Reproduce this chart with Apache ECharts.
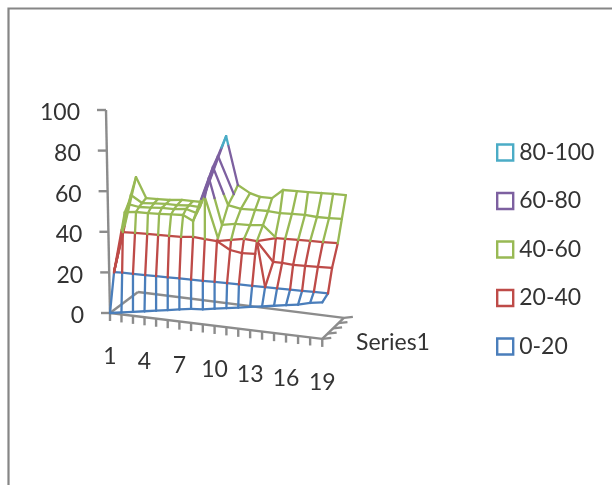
<!DOCTYPE html>
<html>
<head>
<meta charset="utf-8">
<style>html,body{margin:0;padding:0;background:#fff}#chart{width:612px;height:485px}</style>
<script src="https://cdn.jsdelivr.net/npm/echarts@6/dist/echarts.min.js"></script>
</head>
<body>
<div id="chart"></div>
<script>
// Band names, top of the legend first, and their wire colours.
const bandNames = ['80-100', '60-80', '40-60', '20-40', '0-20'];
const bandColors = ['#4BACC6', '#7D60A0', '#98B954', '#BE4B48', '#4A7EBB'];

// Axis tick labels.
const heightTicks = [0, 20, 40, 60, 80, 100];
const columnTicks = [1, 4, 7, 10, 13, 16, 19];
const depthLabel = 'Series1';
const columnCount = 19;
const depthTickCount = 5;

// Surface rows: height and depth at each of the 19 columns; null where a row is absent.
const frontHeights = [0, 1, 2, 3, 4, 5, 6, 7, 7.5, 8.5, 9.5, 10.5, 11.5, 12.5, 13.5, 14.5, 15.5, 17, 18];
const frontDepths = [0, 0, 0, 0, 0, 0, 0, 0, 0, 0, 0, 0, 0, 0, 0, 0, 0, 0, 0];

const lowHeights = [18.6, 20.3, 20.7, 20.5, 21, 21.1, 21.3, 21.4, 21.5, 21.7, 21.5, 21.6, 21.1, 20.8, 20.9, 20.6, 20.7, 21, 20.2];
const lowDepths = [0.6, 0.1, 0, 0.1, 0, 0, 0, 0, 0, 0, 0.1, 0.1, 0.3, 0.45, 0.45, 0.6, 0.6, 0.55, 0.85];

const dipHeights = [null, null, null, null, null, null, null, null, null, 40.9, 36.7, 35.9, 35.7, null, null, null, null, null, null];
const dipDepths = [null, null, null, null, null, null, null, null, null, 0.35, 0.55, 0.55, 0.75, null, null, null, null, null, null];

const shelfHeights = [null, null, null, null, null, null, null, null, null, null, null, null, null, 30.1, 31.5, 31.6, 31.8, 31.8, 31.2];
const shelfDepths = [null, null, null, null, null, null, null, null, null, null, null, null, null, 1.65, 1.2, 1.05, 1.05, 1.15, 1.45];

const midHeights = [18.6, 40, 40.1, 40.1, 40.5, 41, 41.1, 41.7, 41.3, 40.9, 41.3, 42.1, 41.3, 40.8, 42.2, 42, 42.2, 42.1, 41.2];
const midDepths = [0.6, 0.2, 0.3, 0.4, 0.3, 0.2, 0.25, 0.3, 0.3, 0.35, 0.7, 0.85, 1, 2.05, 1.65, 1.8, 1.8, 1.9, 2.3];

const skirtHeights = [null, null, null, null, null, null, null, null, 62, 42, null, null, null, null, null, null, null, null, null];
const skirtDepths = [null, null, null, null, null, null, null, null, 0.3, 0.5, null, null, null, null, null, null, null, null, null];

const upperHeights = [18.6, 49.1, 50, 50, 50.5, 50.8, 51.1, 49.5, 69.9, 46.9, 47.6, 46.6, 46.9, 41.6, null, null, null, null, null];
const upperDepths = [0.6, 0.5, 0.45, 0.5, 0.45, 0.5, 0.55, 0.3, 0.9, 1.1, 1.3, 1.75, 1.9, 1.95, null, null, null, null, null];

const ridgeHeights = [18.6, 51.8, 51.3, 51.6, 52.4, 52.3, 52.9, 52, 73.7, 54.4, 52.8, 52.1, 51.9, 51.6, 51.9, 51.7, 51.4, 51.6, 51.6];
const ridgeDepths = [0.6, 1, 0.9, 0.95, 0.85, 0.95, 1, 0.85, 1.5, 2, 2.15, 2.5, 2.65, 2.65, 2.65, 2.8, 2.8, 2.8, 2.9];

const crestHeights = [18.6, 55.2, 52.1, 52.5, 52.8, 53.1, 53.6, 53.8, 77.2, 57.6, null, null, null, null, null, null, null, null, null];
const crestDepths = [0.6, 1.4, 1.35, 1.4, 1.45, 1.4, 1.4, 1.3, 2.25, 2.85, null, null, null, null, null, null, null, null, null];

const backHeights = [18.6, 62.1, 53, 53.1, 53.2, 53.8, 54.2, 55.5, 83.9, 60.5, 57.1, 56.7, 56.7, 61.8, 61.2, 61.8, 61.4, 61.9, 61.8];
const backDepths = [0.6, 2.15, 1.95, 2, 2.05, 2.1, 2, 1.6, 3.45, 3.45, 3.5, 3.2, 3.25, 3.1, 3.4, 3.25, 3.5, 3.4, 3.5];

// Rows from front to back, in the order the column wires visit them.
const rowHeights = [frontHeights, lowHeights, dipHeights, shelfHeights, midHeights, skirtHeights, upperHeights, ridgeHeights, crestHeights, backHeights];
const rowDepths = [frontDepths, lowDepths, dipDepths, shelfDepths, midDepths, skirtDepths, upperDepths, ridgeDepths, crestDepths, backDepths];

// Two creases where the surface folds: [column, row, column, row], zero-based.
const foldEdges = [[12, 4, 13, 3], [12, 4, 13, 1]];

// Projection of (column, depth, height) onto the plotting plane.
const PX_PER_COLUMN = 11.7;
const PX_PER_HEIGHT = 2.03;
const DEPTH_PX_X = 6.75;
const DEPTH_PX_Y = 5.25;
const FLOOR_DROP = 1.44;
const WALL_LEAN = -0.04;

function frontPx(column) {
  return 11.45 * column + 0.019 * column * column;
}
function toPlane(column, depth, height, depthPxX) {
  const run = depthPxX === undefined ? DEPTH_PX_X : depthPxX;
  return [
    (frontPx(column) + depth * run) / PX_PER_COLUMN,
    height + (DEPTH_PX_Y * depth - FLOOR_DROP * column) / PX_PER_HEIGHT
  ];
}
function floorRun(column) {
  return 7 - 0.0889 * column;
}

// Contours sit a little above their nominal level, hence the tolerance.
const LEVEL_TOLERANCE = 2.5;
const segmentsByBand = bandNames.map(() => []);

function bandIndex(height) {
  const band = Math.max(0, Math.min(4, Math.floor(height / 20)));
  return 4 - band;
}
function pushWire(a, b) {
  const low = Math.min(a[2], b[2]);
  const high = Math.max(a[2], b[2]);
  const cuts = [];
  for (let level = 20; level <= 80; level += 20) {
    if (low < level - LEVEL_TOLERANCE && high > level + LEVEL_TOLERANCE) {
      cuts.push((level - a[2]) / (b[2] - a[2]));
    }
  }
  if (!cuts.length) {
    const mid = (a[2] + b[2]) / 2 - LEVEL_TOLERANCE;
    segmentsByBand[bandIndex(mid)].push(a.concat(b));
    return;
  }
  const stops = [0].concat(cuts.sort((p, q) => p - q), [1]);
  for (let k = 0; k + 1 < stops.length; k++) {
    const start = a.map((v, n) => v + (b[n] - v) * stops[k]);
    const end = a.map((v, n) => v + (b[n] - v) * stops[k + 1]);
    segmentsByBand[bandIndex((start[2] + end[2]) / 2)].push(start.concat(end));
  }
}
function gridPoint(column, row) {
  const h = rowHeights[row][column];
  return h === null ? null : [column, rowDepths[row][column], h];
}

// Wires running along each row.
rowHeights.forEach((heights, row) => {
  for (let c = 0; c + 1 < columnCount; c++) {
    const a = gridPoint(c, row);
    const b = gridPoint(c + 1, row);
    if (a && b) pushWire(a, b);
  }
});
// Wires running front to back along each column.
for (let c = 0; c < columnCount; c++) {
  let previous = null;
  rowHeights.forEach((heights, row) => {
    const p = gridPoint(c, row);
    if (!p) return;
    if (previous && (previous[1] !== p[1] || previous[2] !== p[2])) pushWire(previous, p);
    previous = p;
  });
}
foldEdges.forEach(([c1, r1, c2, r2]) => pushWire(gridPoint(c1, r1), gridPoint(c2, r2)));

const AXIS_COLOR = '#8C8C8C';
const TEXT_COLOR = '#333333';
const AXIS_FONT = '23px Lato';

function renderAxes(params, api) {
  const px = (column, depth, height, run) => api.coord(toPlane(column, depth, height, run));
  const gray = { stroke: AXIS_COLOR, lineWidth: 2.4 };
  const line = (a, b) => ({ type: 'line', shape: { x1: a[0], y1: a[1], x2: b[0], y2: b[1] }, style: gray });
  const text = (label, x, y, align) => ({
    type: 'text',
    style: { text: String(label), x: x, y: y, fill: TEXT_COLOR, font: AXIS_FONT, align: align, verticalAlign: 'middle' }
  });
  const last = columnCount - 1;
  const lastDepth = depthTickCount - 1;
  const corners = [
    px(0, 0, 0), px(last, 0, 0),
    px(last, lastDepth, 0, floorRun(last)), px(0, lastDepth, 0, floorRun(0))
  ];
  const children = [
    line(corners[0], corners[1]), line(corners[1], corners[2]),
    line(corners[2], corners[3]), line(corners[3], corners[0])
  ];
  // Height axis, leaning slightly to the left as it rises.
  const wallX = h => px(0, 0, h)[0] + WALL_LEAN * h;
  const top = heightTicks[heightTicks.length - 1];
  children.push(line([wallX(0), px(0, 0, 0)[1]], [wallX(top), px(0, 0, top)[1]]));
  heightTicks.forEach(h => {
    const y = px(0, 0, h)[1];
    children.push(line([wallX(h) - 9, y], [wallX(h), y]));
    children.push(text(h, wallX(h) - 26, y + 3, 'right'));
  });
  // Column ticks along the front of the floor.
  for (let c = 0; c < columnCount; c++) {
    const p = px(c, 0, 0);
    children.push(line(p, [p[0], p[1] + 8]));
  }
  columnTicks.forEach(label => {
    const p = px(label - 1, 0, 0);
    children.push(text(label, p[0], p[1] + 44, 'center'));
  });
  // Depth ticks along the right edge of the floor.
  for (let d = 0; d < depthTickCount; d++) {
    const p = px(last, d, 0, floorRun(last));
    children.push(line(p, [p[0] + 9, p[1] - 1]));
  }
  const mid = px(last, 2, 0, floorRun(last));
  children.push(text(depthLabel, mid[0] + 23, mid[1] + 14, 'left'));
  return { type: 'group', children: children };
}

function renderWire(color) {
  return function (params, api) {
    const a = api.coord(toPlane(api.value(0), api.value(1), api.value(2)));
    const b = api.coord(toPlane(api.value(3), api.value(4), api.value(5)));
    return {
      type: 'line',
      shape: { x1: a[0], y1: a[1], x2: b[0], y2: b[1] },
      style: { stroke: color, lineWidth: 2.3, lineCap: 'round' }
    };
  };
}

const wireSeries = bandNames.map((name, n) => ({
  type: 'custom',
  name: name,
  silent: true,
  z: 3 + (4 - n),
  renderItem: renderWire(bandColors[n]),
  data: segmentsByBand[n]
}));

const chart = echarts.init(document.getElementById('chart'));
chart.setOption({
  animation: false,
  backgroundColor: '#fff',
  grid: { left: 110, top: 110, width: PX_PER_COLUMN * (columnCount - 1), height: 203, containLabel: false },
  xAxis: { type: 'value', min: 0, max: columnCount - 1, show: false },
  yAxis: { type: 'value', min: 0, max: 100, interval: 20, show: false },
  legend: {
    orient: 'vertical',
    left: 491,
    top: 136,
    itemWidth: 16,
    itemHeight: 16,
    itemGap: 25.5,
    selectedMode: false,
    textStyle: { fontFamily: 'Lato', fontSize: 23, color: TEXT_COLOR, padding: [0, 0, 0, 1] },
    data: bandNames.map((name, n) => ({
      name: name,
      icon: 'rect',
      itemStyle: { color: '#fff', borderColor: bandColors[n], borderWidth: 2.4 }
    }))
  },
  graphic: [{
    type: 'polyline',
    silent: true,
    shape: { points: [[8.5, 485], [8.5, 8.5], [612, 8.5]] },
    style: { fill: 'none', stroke: '#868686', lineWidth: 2.2 }
  }],
  series: [{
    type: 'custom',
    silent: true,
    z: 2,
    renderItem: renderAxes,
    data: [[0, 0]]
  }].concat(wireSeries)
});
</script>
</body>
</html>
